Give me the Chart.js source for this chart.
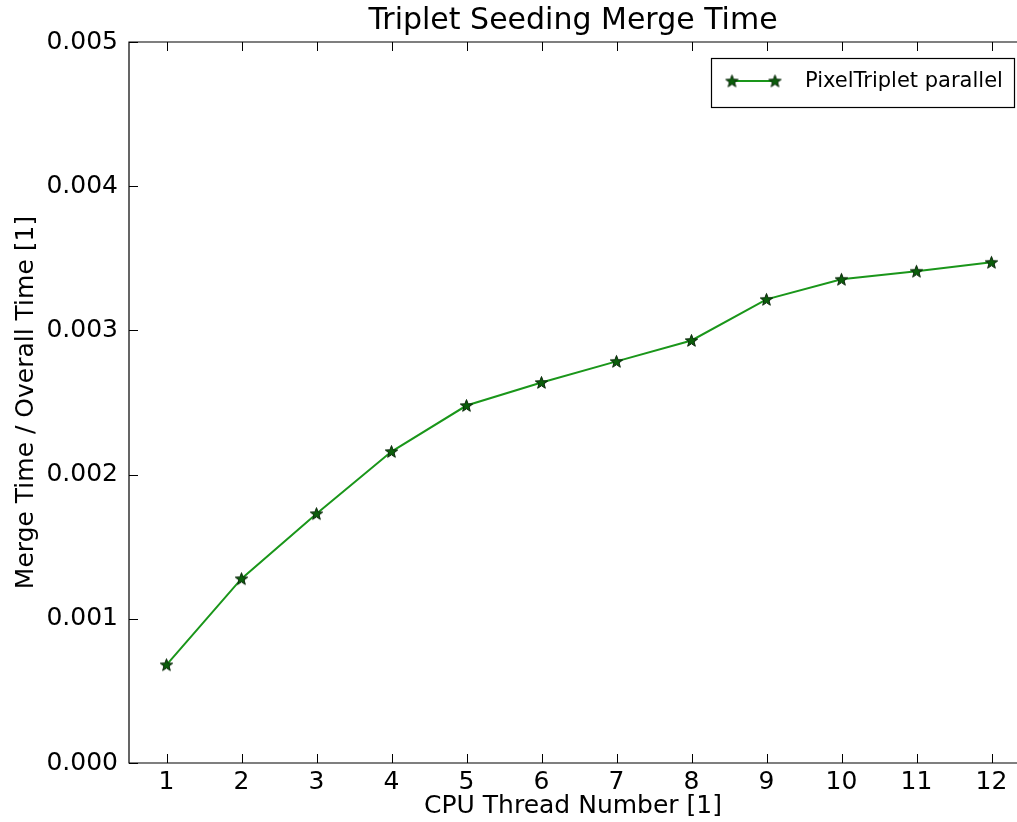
<!DOCTYPE html>
<html>
<head>
<meta charset="utf-8">
<script src="https://cdn.jsdelivr.net/npm/chart.js@4/dist/chart.umd.min.js"></script>
<style>
  html, body { margin: 0; padding: 0; background: #fff; overflow: hidden; }
  canvas { display: block; }
</style>
</head>
<body>
<canvas id="chart" width="1017" height="822"></canvas>
<script>
const threads = [1, 2, 3, 4, 5, 6, 7, 8, 9, 10, 11, 12];
const mergeRatio = [0.000681, 0.001278, 0.001729, 0.00216, 0.002479, 0.002639,
                    0.002785, 0.00293, 0.003215, 0.003354, 0.00341, 0.003472];
const yTicks = [0, 0.001, 0.002, 0.003, 0.004, 0.005];

const seriesLabel = "PixelTriplet parallel";
const lineColor = "#1a961a";
const FONT = "'DejaVu Sans', sans-serif";

// filled five point star like matplotlib '*'
function makeStar(r) {
  const c = document.createElement("canvas");
  const s = Math.ceil(r * 2 + 4);
  c.width = s; c.height = s;
  const g = c.getContext("2d");
  const cx = s / 2, cy = s / 2 + 0.5;
  g.beginPath();
  for (let i = 0; i < 10; i++) {
    const rad = i % 2 === 0 ? r : r * 0.42;
    const a = -Math.PI / 2 + i * Math.PI / 5;
    const px = cx + rad * Math.cos(a), py = cy + rad * Math.sin(a);
    if (i === 0) g.moveTo(px, py); else g.lineTo(px, py);
  }
  g.closePath();
  g.fillStyle = "#0b5e0b";
  g.fill();
  g.lineWidth = 1;
  g.strokeStyle = "#0a260a";
  g.stroke();
  return c;
}
const star = makeStar(6.5);

// the source figure is cut off on the right: no right spine
const framePlugin = {
  id: "frame",
  afterDraw(chart) {
    const { ctx, chartArea: a, scales } = chart;
    ctx.save();
    ctx.strokeStyle = "#000";
    ctx.lineWidth = 1.2;
    ctx.beginPath();
    ctx.moveTo(a.right + 2, a.top);
    ctx.lineTo(a.left, a.top);
    ctx.lineTo(a.left, a.bottom);
    ctx.lineTo(a.right + 2, a.bottom);
    ctx.stroke();

    // inward ticks
    const len = 9;
    ctx.lineWidth = 1;
    ctx.beginPath();
    scales.x.ticks.forEach(t => {
      const px = Math.round(scales.x.getPixelForValue(t.value)) + 0.5;
      ctx.moveTo(px, a.bottom); ctx.lineTo(px, a.bottom - len);
      ctx.moveTo(px, a.top); ctx.lineTo(px, a.top + len);
    });
    scales.y.ticks.forEach(t => {
      const py = Math.round(scales.y.getPixelForValue(t.value)) + 0.5;
      ctx.moveTo(a.left, py); ctx.lineTo(a.left + len, py);
    });
    ctx.stroke();

    // legend box
    const bx = 711.5, by = 58.5, bw = 303, bh = 49;
    ctx.fillStyle = "#fff";
    ctx.fillRect(bx, by, bw, bh);
    ctx.strokeStyle = "#000";
    ctx.lineWidth = 1.2;
    ctx.strokeRect(bx, by, bw, bh);
    const ly = 81;
    ctx.strokeStyle = lineColor;
    ctx.lineWidth = 2;
    ctx.beginPath();
    ctx.moveTo(732, ly); ctx.lineTo(775, ly);
    ctx.stroke();
    ctx.drawImage(star, 732 - star.width / 2, ly - star.height / 2);
    ctx.drawImage(star, 775 - star.width / 2, ly - star.height / 2);
    ctx.fillStyle = "#000";
    ctx.font = "21px " + FONT;
    ctx.textBaseline = "middle";
    ctx.textAlign = "left";
    ctx.fillText(chart.data.datasets[0].label, 805, ly + 1);
    ctx.restore();
  }
};

new Chart(document.getElementById("chart"), {
  type: "line",
  data: {
    datasets: [{
      label: seriesLabel,
      data: threads.map((t, i) => ({ x: t, y: mergeRatio[i] })),
      borderColor: lineColor,
      borderWidth: 2,
      pointStyle: star,
      pointRadius: 6,
      tension: 0
    }]
  },
  options: {
    responsive: false,
    animation: false,
    layout: { padding: 0, autoPadding: false },
    plugins: {
      legend: { display: false },
      tooltip: { enabled: false },
      title: {
        display: true,
        fullSize: false,
        text: "Triplet Seeding Merge Time",
        color: "#000",
        font: { family: FONT, size: 30, weight: "normal" },
        padding: { top: 3, bottom: 3 }
      }
    },
    scales: {
      x: {
        type: "linear",
        min: 0.5,
        max: 12.34,
        afterBuildTicks: s => { s.ticks = threads.map(v => ({ value: v })); },
        afterFit: s => { s.height = 59; s.paddingLeft = 0; s.paddingRight = 0; },
        grid: { display: false, drawTicks: false },
        border: { display: false },
        ticks: {
          color: "#000",
          padding: 4,
          maxRotation: 0,
          font: { family: FONT, size: 25 }
        },
        title: {
          display: true,
          text: "CPU Thread Number [1]",
          color: "#000",
          font: { family: FONT, size: 25 },
          padding: { top: 0, bottom: 1 }
        }
      },
      y: {
        min: 0,
        max: 0.005,
        afterBuildTicks: s => { s.ticks = yTicks.map(v => ({ value: v })); },
        afterFit: s => { s.width = 129; s.paddingTop = 0; s.paddingBottom = 0; },
        grid: { display: false, drawTicks: false },
        border: { display: false },
        ticks: {
          color: "#000",
          padding: 11,
          font: { family: FONT, size: 25 },
          callback: v => v.toFixed(3)
        },
        title: {
          display: true,
          text: "Merge Time / Overall Time [1]",
          color: "#000",
          font: { family: FONT, size: 25 },
          padding: { top: 11, bottom: 0 }
        }
      }
    }
  },
  plugins: [framePlugin]
});
</script>
</body>
</html>
